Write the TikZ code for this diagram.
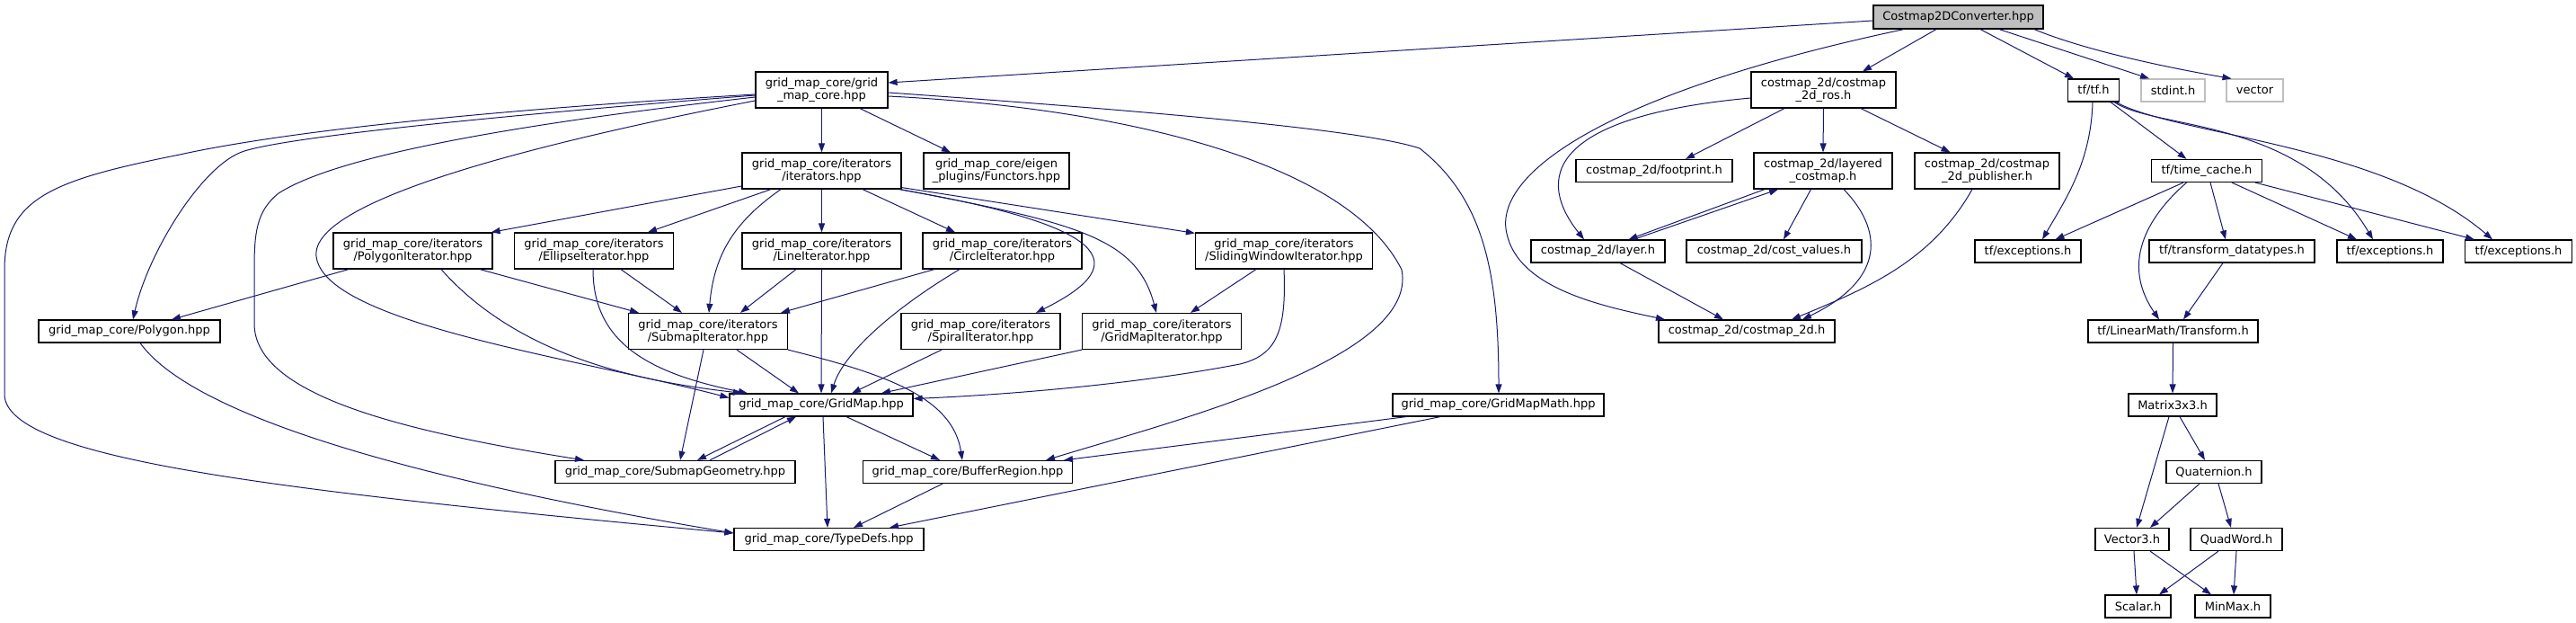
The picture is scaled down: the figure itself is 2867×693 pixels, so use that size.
\documentclass[tikz,border=0pt]{standalone}
\usepackage{fontspec}
\setmainfont{DejaVu Sans}
\usetikzlibrary{arrows.meta}
\definecolor{edgec}{HTML}{191970}
\definecolor{rootgray}{HTML}{BFBFBF}
\definecolor{lightb}{HTML}{BFBFBF}
\begin{document}
\begin{tikzpicture}[x=1pt,y=-1pt,
 box/.style={draw=black,line width=1.2pt,fill=white,inner sep=0pt,align=center,font=\fontsize{13}{14}\selectfont},
 dep/.style={draw=edgec,line width=1pt,-{Triangle[length=10pt,width=7pt]}}]
\useasboundingbox[fill=white] (0,0) rectangle (2867,693);
% nodes
\node[box,fill=rootgray,minimum width=189pt,minimum height=26pt] (C) at (2179.5,19) {Costmap2DConverter.hpp};
\node[box,minimum width=147pt,minimum height=40pt] (gmc) at (914.5,100) {grid\_map\_core/grid\\\_map\_core.hpp};
\node[box,minimum width=161pt,minimum height=40pt] (ros) at (2029.5,100) {costmap\_2d/costmap\\\_2d\_ros.h};
\node[box,minimum width=57pt,minimum height=25pt] (tf) at (2330,100.5) {tf/tf.h};
\node[box,draw=lightb,minimum width=71pt,minimum height=25pt] (stdint) at (2418.5,100.5) {stdint.h};
\node[box,draw=lightb,minimum width=63pt,minimum height=25pt] (vector) at (2509.5,100.5) {vector};
\node[box,minimum width=177pt,minimum height=40pt] (iter) at (914.5,190) {grid\_map\_core/iterators\\/iterators.hpp};
\node[box,minimum width=162pt,minimum height=40pt] (functors) at (1109,190) {grid\_map\_core/eigen\\\_plugins/Functors.hpp};
\node[box,minimum width=174pt,minimum height=25pt] (footprint) at (1841,190) {costmap\_2d/footprint.h};
\node[box,minimum width=154pt,minimum height=40pt] (layered) at (2029,190) {costmap\_2d/layered\\\_costmap.h};
\node[box,minimum width=161pt,minimum height=40pt] (publisher) at (2211.5,190) {costmap\_2d/costmap\\\_2d\_publisher.h};
\node[box,minimum width=123pt,minimum height=25pt] (timecache) at (2456,190) {tf/time\_cache.h};
\node[box,minimum width=177pt,minimum height=40pt] (polyit) at (459.5,279) {grid\_map\_core/iterators\\/PolygonIterator.hpp};
\node[box,minimum width=177pt,minimum height=40pt] (ellit) at (661,279) {grid\_map\_core/iterators\\/EllipseIterator.hpp};
\node[box,minimum width=177pt,minimum height=40pt] (lineit) at (914.5,279) {grid\_map\_core/iterators\\/LineIterator.hpp};
\node[box,minimum width=177pt,minimum height=40pt] (circit) at (1115.5,279) {grid\_map\_core/iterators\\/CircleIterator.hpp};
\node[box,minimum width=197pt,minimum height=40pt] (slideit) at (1429,279) {grid\_map\_core/iterators\\/SlidingWindowIterator.hpp};
\node[box,minimum width=149pt,minimum height=25pt] (layer) at (1778.5,279.5) {costmap\_2d/layer.h};
\node[box,minimum width=195pt,minimum height=25pt] (costvalues) at (1974.5,279.5) {costmap\_2d/cost\_values.h};
\node[box,minimum width=118pt,minimum height=25pt] (exc1) at (2257,279.5) {tf/exceptions.h};
\node[box,minimum width=184pt,minimum height=25pt] (tfdt) at (2484,279.5) {tf/transform\_datatypes.h};
\node[box,minimum width=118pt,minimum height=25pt] (exc2) at (2660,279.5) {tf/exceptions.h};
\node[box,minimum width=119pt,minimum height=25pt] (exc3) at (2803,279.5) {tf/exceptions.h};
\node[box,minimum width=202pt,minimum height=25pt] (polygon) at (144,368.5) {grid\_map\_core/Polygon.hpp};
\node[box,minimum width=177pt,minimum height=40pt] (submapit) at (788,368.5) {grid\_map\_core/iterators\\/SubmapIterator.hpp};
\node[box,minimum width=177pt,minimum height=40pt] (spiralit) at (1091.5,368.5) {grid\_map\_core/iterators\\/SpiralIterator.hpp};
\node[box,minimum width=177pt,minimum height=40pt] (gmit) at (1293,368.5) {grid\_map\_core/iterators\\/GridMapIterator.hpp};
\node[box,minimum width=196pt,minimum height=25pt] (costmap2d) at (1944,368.5) {costmap\_2d/costmap\_2d.h};
\node[box,minimum width=189pt,minimum height=25pt] (transform) at (2418.5,368.5) {tf/LinearMath/Transform.h};
\node[box,minimum width=204pt,minimum height=25pt] (gridmap) at (914,450.5) {grid\_map\_core/GridMap.hpp};
\node[box,minimum width=235pt,minimum height=25pt] (gmmath) at (1667.5,450.5) {grid\_map\_core/GridMapMath.hpp};
\node[box,minimum width=98pt,minimum height=25pt] (matrix) at (2418,450.5) {Matrix3x3.h};
\node[box,minimum width=267pt,minimum height=25pt] (subgeom) at (751.5,525) {grid\_map\_core/SubmapGeometry.hpp};
\node[box,minimum width=233pt,minimum height=25pt] (buffer) at (1077,525) {grid\_map\_core/BufferRegion.hpp};
\node[box,minimum width=106pt,minimum height=25pt] (quat) at (2464,525) {Quaternion.h};
\node[box,minimum width=211pt,minimum height=25pt] (typedefs) at (922.5,600) {grid\_map\_core/TypeDefs.hpp};
\node[box,minimum width=82pt,minimum height=25pt] (vector3) at (2373,600) {Vector3.h};
\node[box,minimum width=102pt,minimum height=25pt] (quadword) at (2489,600) {QuadWord.h};
\node[box,minimum width=73pt,minimum height=25pt] (scalar) at (2379.5,674.5) {Scalar.h};
\node[box,minimum width=84pt,minimum height=25pt] (minmax) at (2485,674.5) {MinMax.h};
% edges from root
\draw[dep] ([xshift=-24.5pt]C.south) -- ([xshift=43.5pt]ros.north);
\draw[dep] ([xshift=24.5pt]C.south) -- ([xshift=-22pt]tf.north);
\draw[dep] ([xshift=45.5pt]C.south) -- ([xshift=-26.5pt]stdint.north);
\draw[dep] ([xshift=84.5pt]C.south) .. controls (2330,60) and (2440,80) .. ([xshift=-26pt]vector.north);
\draw[dep] ([yshift=-4pt]C.west) -- ([yshift=8pt]gmc.east);
\draw[dep] ([xshift=-60.5pt]C.south) .. controls (1800,100) and (1660,190) .. (1677,260) .. controls (1690,320) and (1780,340) .. ([xshift=-91pt]costmap2d.north);
% costmap_2d
\draw[dep] ([xshift=-43.5pt]ros.south) -- ([xshift=35pt]footprint.north);
\draw[dep] (ros.south) -- (layered.north);
\draw[dep] ([xshift=41.5pt]ros.south) -- ([xshift=-41pt]publisher.north);
\draw[dep] ([yshift=-9pt]ros.west) .. controls (1720,130) and (1710,200) .. ([xshift=-15.5pt]layer.north);
\draw[dep] ([xshift=-65pt]layered.south) -- ([xshift=34pt]layer.north);
\draw[dep] ([xshift=39.5pt]layer.north) -- ([xshift=-50pt]layered.south);
\draw[dep] ([xshift=-13.5pt]layered.south) -- ([xshift=10.5pt]costvalues.north);
\draw[dep] ([xshift=23pt]layered.south) .. controls (2095,255) and (2100,310) .. ([xshift=62pt]costmap2d.north);
\draw[dep] ([xshift=-16.5pt]publisher.south) .. controls (2150,290) and (2080,320) .. ([xshift=50pt]costmap2d.north);
\draw[dep] ([xshift=24.5pt]layer.south) -- ([xshift=-26pt]costmap2d.north);
% tf
\draw[dep] ([xshift=-1pt]tf.south) .. controls (2327,180) and (2300,220) .. ([xshift=16pt]exc1.north);
\draw[dep] ([xshift=19pt]tf.south) -- ([xshift=-22.5pt]timecache.north);
\draw[dep] ([xshift=23pt]tf.south) .. controls (2400,145) and (2560,130) .. ([xshift=-19pt]exc2.north);
\draw[dep] ([xshift=25pt]tf.south) .. controls (2420,150) and (2650,160) .. ([xshift=-29pt]exc3.north);
\draw[dep] ([xshift=-26pt]timecache.south) -- ([xshift=30.5pt]exc1.north);
\draw[dep] ([xshift=-22.5pt]timecache.south) .. controls (2380,250) and (2365,300) .. ([xshift=-15.5pt]transform.north);
\draw[dep] ([xshift=4pt]timecache.south) -- ([xshift=-7pt]tfdt.north);
\draw[dep] ([xshift=28pt]timecache.south) -- ([xshift=-37pt]exc2.north);
\draw[dep] ([xshift=54pt]timecache.south) -- ([xshift=-49pt]exc3.north);
\draw[dep] ([xshift=-10pt]tfdt.south) -- ([xshift=11.5pt]transform.north);
\draw[dep] (transform.south) -- (matrix.north);
\draw[dep] ([xshift=-4pt]matrix.south) -- ([xshift=5pt]vector3.north);
\draw[dep] ([xshift=8pt]matrix.south) -- ([xshift=-10pt]quat.north);
\draw[dep] ([xshift=-16pt]quat.south) -- ([xshift=20pt]vector3.north);
\draw[dep] ([xshift=5pt]quat.south) -- ([xshift=-6pt]quadword.north);
\draw[dep] ([xshift=2pt]vector3.south) -- ([xshift=-1.5pt]scalar.north);
\draw[dep] ([xshift=20pt]vector3.south) -- ([xshift=-24pt]minmax.north);
\draw[dep] ([xshift=-20pt]quadword.south) -- ([xshift=23.5pt]scalar.north);
\draw[dep] (quadword.south) -- ([xshift=1pt]minmax.north);
% grid_map_core
\draw[dep] (gmc.south) -- (iter.north);
\draw[dep] ([xshift=42.5pt]gmc.south) -- ([xshift=-51pt]functors.north);
\draw[dep] ([yshift=-6pt]gmc.west) .. controls (600,125) and (330,150) .. (272,168) .. controls (226,182) and (165,280) .. ([xshift=4pt]polygon.north);
\draw[dep] ([yshift=-5pt]gmc.west) .. controls (500,125) and (300,150) .. (200,172) .. controls (60,200) and (5,220) .. (5,300) -- (5,440) .. controls (10,510) and (300,545) .. ([yshift=7pt]typedefs.west);
\draw[dep] ([yshift=-8pt]gmc.west) .. controls (600,135) and (380,170) .. (310,215) .. controls (285,235) and (283,260) .. (283,300) -- (283,360) .. controls (283,440) and (450,480) .. ([xshift=-101.5pt]subgeom.north);
\draw[dep] ([yshift=-12pt]gmc.west) .. controls (620,155) and (345,220) .. (352,285) .. controls (360,360) and (650,400) .. ([yshift=8pt]gridmap.west);
\draw[dep] ([yshift=-3pt]gmc.east) .. controls (1300,125) and (1520,145) .. (1580,165) .. controls (1650,220) and (1668,300) .. ([xshift=0.5pt]gmmath.north);
\draw[dep] ([yshift=-7pt]gmc.east) .. controls (1250,120) and (1500,180) .. (1560,300) .. controls (1580,400) and (1300,470) .. ([xshift=87pt]buffer.north);
% iterators
\draw[dep] ([yshift=-17pt]iter.west) -- ([xshift=-2pt]polyit.north east);
\draw[dep] ([xshift=-56.5pt]iter.south) -- ([xshift=60pt]ellit.north);
\draw[dep] ([xshift=-45.5pt]iter.south) .. controls (820,245) and (795,280) .. ([xshift=1pt]submapit.north);
\draw[dep] (iter.south) -- (lineit.north);
\draw[dep] ([xshift=45.5pt]iter.south) -- ([xshift=-52.5pt]circit.north);
\draw[dep] ([xshift=-3pt]iter.south east) .. controls (1260,255) and (1250,300) .. ([xshift=61.5pt]spiralit.north);
\draw[dep] ([xshift=-2pt]iter.south east) .. controls (1200,248) and (1265,265) .. ([xshift=-6pt]gmit.north);
\draw[dep] ([yshift=2pt]iter.south east) -- ([yshift=-1pt]slideit.north west);
\draw[dep] ([xshift=-71.5pt]polyit.south) -- ([xshift=47pt]polygon.north);
\draw[dep] ([xshift=31.5pt]polyit.south) .. controls (580,400) and (720,425) .. ([xshift=-88pt]gridmap.north);
\draw[dep] ([xshift=74.5pt]polyit.south) -- ([xshift=-77pt]submapit.north);
\draw[dep] ([xshift=30pt]ellit.south) -- ([xshift=-29pt]submapit.north);
\draw[dep] ([xshift=-1pt]ellit.south) .. controls (660,380) and (720,415) .. ([xshift=-82pt]gridmap.north);
\draw[dep] ([xshift=-28.5pt]lineit.south) -- ([xshift=36pt]submapit.north);
\draw[dep] (lineit.south) -- (gridmap.north);
\draw[dep] ([xshift=-75.5pt]circit.south) -- ([xshift=81pt]submapit.north);
\draw[dep] ([xshift=-47.5pt]circit.south) .. controls (1000,340) and (940,390) .. ([xshift=11pt]gridmap.north);
\draw[dep] ([xshift=-31pt]slideit.south) -- ([xshift=32pt]gmit.north);
\draw[dep] (slideit.south) .. controls (1432,370) and (1420,395) .. (1380,405) .. controls (1250,430) and (1100,440) .. ([yshift=7pt]gridmap.east);
\draw[dep] ([xshift=-43.5pt]spiralit.south) -- ([xshift=34pt]gridmap.north);
\draw[dep] (gmit.south west) -- ([xshift=67pt]gridmap.north);
\draw[dep] ([xshift=-5pt]submapit.south) -- ([xshift=5.5pt]subgeom.north);
\draw[dep] ([xshift=32pt]submapit.south) -- ([xshift=-25pt]gridmap.north);
\draw[dep] (submapit.south east) .. controls (980,415) and (1060,440) .. ([xshift=-6pt]buffer.north);
\draw[dep] ([xshift=-40pt]gridmap.south) -- ([xshift=24.5pt]subgeom.north);
\draw[dep] ([xshift=38.5pt]subgeom.north) -- ([xshift=-28pt]gridmap.south);
\draw[dep] ([xshift=2pt]gridmap.south) -- ([xshift=-1.5pt]typedefs.north);
\draw[dep] ([xshift=28pt]gridmap.south) -- ([xshift=-31pt]buffer.north);
\draw[dep] ([xshift=12pt]polygon.south) .. controls (220,470) and (500,540) .. ([yshift=7pt]typedefs.west);
\draw[dep] ([xshift=-28pt]buffer.south) -- ([xshift=27.5pt]typedefs.north);
\draw[dep] ([xshift=-102.5pt]gmmath.south) -- ([xshift=107pt]buffer.north);
\draw[dep] ([xshift=-64.5pt]gmmath.south) -- ([xshift=67.5pt]typedefs.north);
\end{tikzpicture}
\end{document}
